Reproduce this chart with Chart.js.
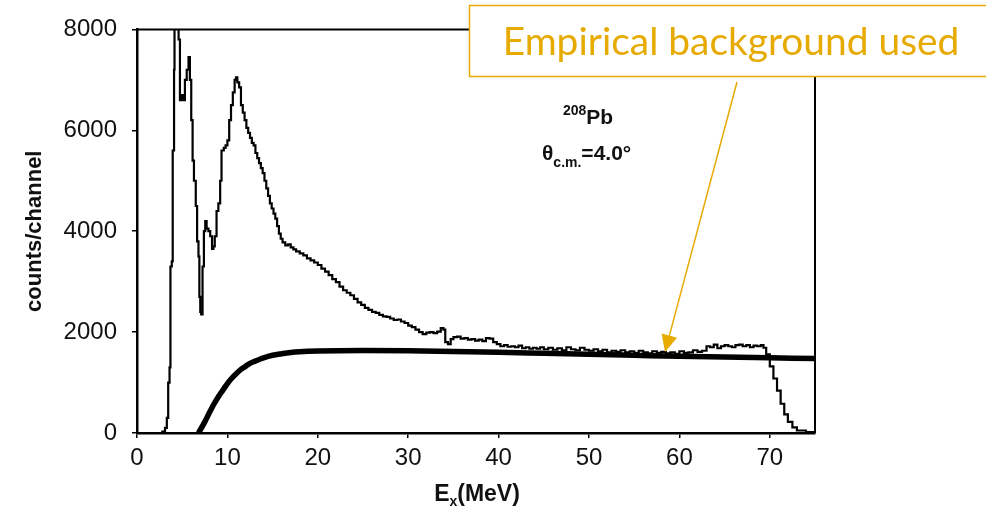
<!DOCTYPE html>
<html>
<head>
<meta charset="utf-8">
<script src="https://cdn.jsdelivr.net/npm/chart.js@4.4.1/dist/chart.umd.min.js"></script>
<style>
  html, body { margin: 0; padding: 0; background: #fff; }
  #wrap { width: 986px; height: 509px; }
</style>
</head>
<body>
<div id="wrap"><canvas id="spectrum" width="986" height="509"></canvas></div>
<script>
var energy = [0, 1, 2, 2.5, 2.8, 3.1, 3.3, 3.45, 3.6, 3.7, 3.85, 3.95, 4.1, 4.15, 4.5, 4.6, 4.75, 4.9, 5.1, 5.3, 5.5, 5.7, 5.85,
    6.0, 6.15, 6.3, 6.5, 6.65, 6.8, 6.9, 7.0, 7.1, 7.25, 7.4, 7.55, 7.7, 7.9, 8.1, 8.3, 8.45, 8.6, 8.8, 9.0, 9.2, 9.35,
    9.6, 9.8, 10.0, 10.2, 10.4, 10.6, 10.8, 10.95, 11.1, 11.3, 11.5, 11.7, 11.9, 12.1, 12.3, 12.5, 12.7, 12.9, 13.1, 13.3,
    13.5, 13.7, 13.9, 14.1, 14.3, 14.5, 14.7, 14.9, 15.1, 15.3, 15.5, 15.7, 15.9, 16.1, 16.4, 16.7, 17.0, 17.3, 17.6,
    18.0, 18.4, 18.8, 19.2, 19.6, 20.0, 20.4, 20.8, 21.2, 21.6, 22.0, 22.4, 22.8, 23.2, 23.6, 24.0, 24.4, 24.8, 25.2,
    25.6, 26.0, 26.4, 26.8, 27.2, 27.6, 28.0, 28.4, 28.8, 29.2, 29.6, 30.0, 30.4, 30.8, 31.2, 31.6, 32.0, 32.4, 32.8,
    33.2, 33.6, 33.9, 34.1, 34.4, 34.7, 35.0, 35.4, 35.8, 36.2, 36.6, 37.0, 37.4, 37.8, 38.2, 38.6, 39.0, 39.4, 39.8,
    40.2, 40.6, 41.0, 41.4, 41.8, 42.2, 42.6, 43.0, 43.4, 43.8, 44.2, 44.6, 45.0, 45.5, 46, 46.5, 47, 47.5, 48, 48.5,
    49, 49.5, 50, 50.5, 51, 51.5, 52, 52.5, 53, 53.5, 54, 54.5, 55, 55.5, 56, 56.5, 57, 57.5, 58, 58.5, 59, 59.5, 60,
    60.5, 61, 61.5, 62, 62.5, 63.0, 63.4, 63.8, 64.2, 64.6, 65.0, 65.4, 65.8, 66.2, 66.6, 67.0, 67.4, 67.8, 68.2, 68.6,
    69.0, 69.3, 69.6, 70.0, 70.4, 70.8, 71.2, 71.6, 72.0, 72.5, 73, 74, 75];
var counts = [0, 0, 0, 0, 30, 100, 300, 1000, 1300, 3300, 3400, 5600, 7200, 9000, 9000, 7800, 6600, 6700, 6600, 7000, 7200, 7450, 7000,
    6200, 5400, 5000, 4500, 3800, 3500, 2700, 2400, 2350, 3300, 4000, 4200, 4050, 4000, 3900, 3650, 3700, 3900, 4400, 4550, 5000, 5600,
    5650, 5700, 5800, 6200, 6500, 6750, 7000, 7050, 6950, 6850, 6500, 6350, 6200, 6050, 5950, 5850, 5750, 5700, 5550, 5450,
    5350, 5250, 5150, 5000, 4850, 4700, 4550, 4450, 4350, 4250, 4100, 3950, 3850, 3780, 3720, 3740, 3680, 3640, 3600,
    3560, 3520, 3460, 3420, 3380, 3330, 3260, 3200, 3130, 3050, 2990, 2900, 2830, 2780, 2730, 2660, 2590, 2540, 2480,
    2440, 2400, 2380, 2340, 2310, 2300, 2270, 2240, 2250, 2210, 2180, 2130, 2100, 2050, 2000, 1960, 1990, 2000, 1980,
    2010, 2080, 2050, 1800, 1760, 1860, 1900, 1910, 1870, 1880, 1850, 1860, 1830, 1850, 1820, 1880, 1870, 1800, 1760,
    1720, 1740, 1710, 1720, 1700, 1730, 1680, 1700, 1670, 1690, 1670, 1700, 1660, 1690, 1650, 1680, 1640, 1700, 1660, 1640,
    1690, 1650, 1630, 1660, 1620, 1650, 1600, 1630, 1610, 1640, 1600, 1620, 1590, 1630, 1600, 1580, 1620, 1590, 1610, 1580, 1600, 1570, 1620,
    1590, 1600, 1640, 1610, 1630, 1720, 1700, 1750, 1680, 1720, 1740, 1720, 1700, 1740, 1750, 1720, 1740, 1700, 1730, 1720,
    1740, 1690, 1560, 1320, 1080, 840, 580, 370, 220, 110, 50, 20, 0];

// empirical background curve
var bgEnergy = [6.8, 7.0, 7.5, 8.0, 8.5, 9.0, 9.5, 10.0, 10.5, 11.0, 11.5, 12.0, 12.5, 13.0, 14.0, 15.0, 16.0, 17.0, 18.0, 20.0,
    25.0, 30.0, 35.0, 40.0, 45.0, 50.0, 55.0, 60.0, 65.0, 70.0, 75.0];
var bgCounts = [0, 60, 220, 400, 570, 720, 850, 980, 1090, 1180, 1260, 1320, 1380, 1420, 1490, 1540, 1570, 1595, 1610, 1625,
    1635, 1630, 1615, 1600, 1580, 1560, 1540, 1520, 1505, 1490, 1475];

var xTicks = [0, 10, 20, 30, 40, 50, 60, 70];
var yTicks = [0, 2000, 4000, 6000, 8000];

var gold = '#E6AA00';

function pts(xs, ys) {
    return xs.map(function (x, i) { return {x: x, y: ys[i]}; });
}

var extras = {
    id: 'extras',
    afterDraw: function (chart) {
        var ctx = chart.ctx, a = chart.chartArea;
        ctx.save();
        // frame top/right
        ctx.strokeStyle = '#000';
        ctx.lineWidth = 2;
        ctx.beginPath();
        ctx.moveTo(a.left, a.top);
        ctx.lineTo(a.right, a.top);
        ctx.lineTo(a.right, a.bottom);
        ctx.stroke();

        // axis titles
        ctx.fillStyle = '#111';
        ctx.textBaseline = 'middle';
        ctx.textAlign = 'center';
        ctx.font = 'bold 22px "Liberation Sans", Arial, sans-serif';
        ctx.save();
        ctx.translate(35, (a.top + a.bottom) / 2);
        ctx.rotate(-Math.PI / 2);
        ctx.fillText('counts/channel', 0, 0);
        ctx.restore();

        ctx.textAlign = 'left';
        ctx.textBaseline = 'alphabetic';
        var f1 = 'bold 23px "Liberation Sans", Arial, sans-serif';
        var f2 = 'bold 14px "Liberation Sans", Arial, sans-serif';
        ctx.font = f1; var wE = ctx.measureText('E').width, wM = ctx.measureText('(MeV)').width;
        ctx.font = f2; var wx = ctx.measureText('x').width;
        var x0 = 477 - (wE + wx + wM) / 2, yb = 501;
        ctx.font = f1; ctx.fillText('E', x0, yb);
        ctx.font = f2; ctx.fillText('x', x0 + wE, yb + 5);
        ctx.font = f1; ctx.fillText('(MeV)', x0 + wE + wx, yb);

        // nucleus / angle label
        var b21 = 'bold 21px "Liberation Sans", Arial, sans-serif';
        var b14 = 'bold 14px "Liberation Sans", Arial, sans-serif';
        ctx.font = b14; ctx.fillText('208', 563, 115);
        var w208 = ctx.measureText('208').width;
        ctx.font = b21; ctx.fillText('Pb', 563 + w208, 124);
        ctx.font = b21; ctx.fillText('\u03b8', 542, 160);
        var wt = ctx.measureText('\u03b8').width;
        ctx.font = b14; ctx.fillText('c.m.', 542 + wt, 167);
        var wc = ctx.measureText('c.m.').width;
        ctx.font = b21; ctx.fillText('=4.0\u00b0', 542 + wt + wc, 160);

        // callout box
        ctx.fillStyle = '#fff';
        ctx.fillRect(469, 5, 530, 71);
        ctx.strokeStyle = gold;
        ctx.lineWidth = 1.5;
        ctx.strokeRect(469.5, 5.5, 530, 71);
        var size = 36;
        ctx.font = size + 'px Lato, "Open Sans", sans-serif';
        size = size * 457 / ctx.measureText('Empirical background used').width;
        ctx.font = size.toFixed(1) + 'px Lato, "Open Sans", sans-serif';
        ctx.fillStyle = gold;
        ctx.textAlign = 'center';
        ctx.fillText('Empirical background used', 731, 55);

        // arrow
        var sx = 737, sy = 82, tx = 665, ty = 352;
        var ang = Math.atan2(ty - sy, tx - sx), hl = 17, hw = 8;
        var bx = tx - hl * Math.cos(ang), by = ty - hl * Math.sin(ang);
        ctx.strokeStyle = gold;
        ctx.lineWidth = 1.5;
        ctx.beginPath();
        ctx.moveTo(sx, sy);
        ctx.lineTo(bx, by);
        ctx.stroke();
        ctx.fillStyle = gold;
        ctx.beginPath();
        ctx.moveTo(tx, ty);
        ctx.lineTo(bx + hw * Math.sin(ang), by - hw * Math.cos(ang));
        ctx.lineTo(bx - hw * Math.sin(ang), by + hw * Math.cos(ang));
        ctx.closePath();
        ctx.fill();
        ctx.restore();
    }
};

var ctx = document.getElementById('spectrum').getContext('2d');
new Chart(ctx, {
    type: 'line',
    data: {
        datasets: [
            {
                label: 'spectrum',
                data: pts(energy, counts),
                borderColor: '#000',
                borderWidth: 2.2,
                pointRadius: 0,
                stepped: true,
                fill: false
            },
            {
                label: 'background',
                data: pts(bgEnergy, bgCounts),
                borderColor: '#000',
                borderWidth: 5.5,
                pointRadius: 0,
                tension: 0.4,
                cubicInterpolationMode: 'monotone',
                fill: false
            }
        ]
    },
    options: {
        responsive: false,
        animation: false,
        events: [],
        layout: {padding: {left: 0, top: 22, right: 171, bottom: 0}},
        plugins: {legend: {display: false}, tooltip: {enabled: false}},
        scales: {
            x: {
                type: 'linear',
                min: 0, max: 75,
                afterFit: function (s) { s.height = 76; },
                afterBuildTicks: function (s) { s.ticks = xTicks.map(function (v) { return {value: v}; }); },
                ticks: {color: '#111', padding: 6, font: {family: '"Liberation Sans", Arial, sans-serif', size: 24},
                    callback: function (v) { return String(v); }},
                grid: {drawOnChartArea: false, drawTicks: true, tickLength: 5, color: '#000', lineWidth: 1.5},
                border: {display: true, color: '#000', width: 2.5}
            },
            y: {
                min: 0, max: 8000,
                afterFit: function (s) { s.width = 137; },
                afterBuildTicks: function (s) { s.ticks = yTicks.map(function (v) { return {value: v}; }); },
                ticks: {color: '#111', padding: 15, font: {family: '"Liberation Sans", Arial, sans-serif', size: 24},
                    callback: function (v) { return String(v); }},
                grid: {drawOnChartArea: false, drawTicks: true, tickLength: 5, color: '#000', lineWidth: 1.5},
                border: {display: true, color: '#000', width: 2.5}
            }
        }
    },
    plugins: [extras]
});
</script>
</body>
</html>
